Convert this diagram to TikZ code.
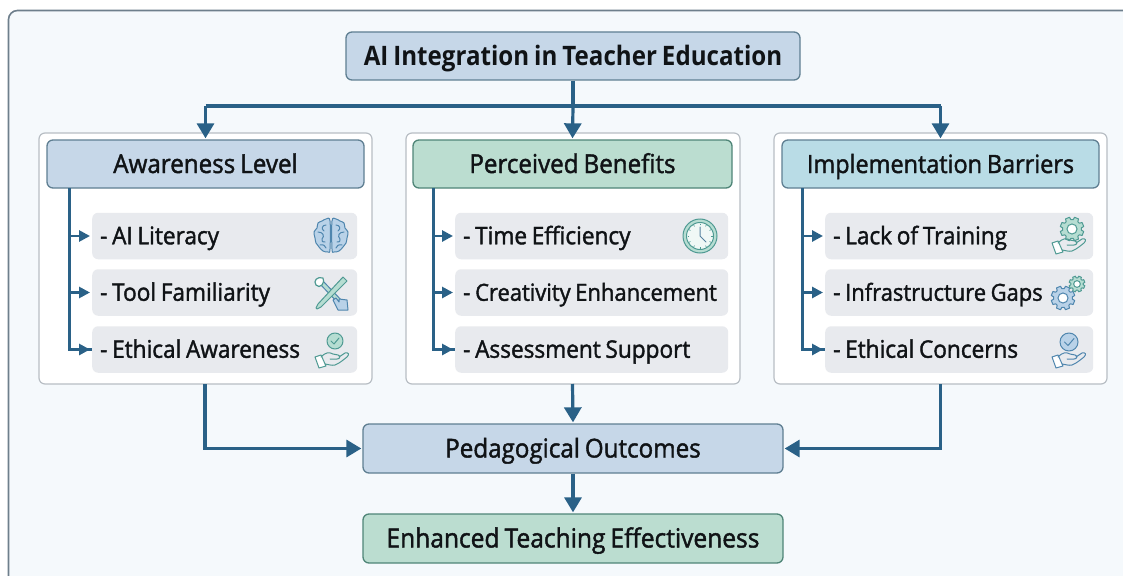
\documentclass[tikz,border=0pt]{standalone}
\usepackage{fontspec}
\setmainfont[FakeStretch=0.93,WordSpace=0.8,FakeBold=1.6]{Open Sans}
\newfontfamily\medfont[FakeStretch=0.9,WordSpace=0.8,UprightFont=*-Bold]{Open Sans}
\usetikzlibrary{arrows.meta,calc}
\definecolor{linec}{HTML}{2A6187}
\definecolor{bgc}{HTML}{F5F9FC}
\definecolor{framec}{HTML}{6E7F8C}
\definecolor{panelc}{HTML}{B8BEC4}
\definecolor{bluef}{HTML}{C6D7E8}
\definecolor{greenf}{HTML}{BBDDD0}
\definecolor{tealf}{HTML}{B9DCE6}
\definecolor{itemf}{HTML}{E8EAEE}
\definecolor{edgec}{HTML}{5F7F92}
\definecolor{greene}{HTML}{4F8577}
\definecolor{ink}{HTML}{101316}
\definecolor{iconb}{HTML}{4F86AE}
\definecolor{iconbf}{HTML}{B9D2E8}
\definecolor{icong}{HTML}{4F9A93}
\definecolor{icongf}{HTML}{B6DDD2}
\newcommand{\tightsize}{\fontsize{23.6}{27}\selectfont}
\tikzset{
  x=1pt,y=-1pt,
  frame/.style={draw=framec,line width=1.6pt,fill=bgc,rounded corners=9pt},
  panelbox/.style={draw=panelc,line width=1.2pt,fill=white,rounded corners=6pt},
  boxbase/.style={rounded corners=6pt,line width=1.3pt,inner sep=0pt,text=ink,text height=20pt,text depth=2pt},
  rootbox/.style={boxbase,draw=edgec,fill=bluef,text height=22pt,font=\fontsize{26.8}{30}\selectfont\medfont},
  headblue/.style={boxbase,draw=edgec,fill=bluef,font=\fontsize{26}{30}\selectfont},
  headgreen/.style={boxbase,draw=greene,fill=greenf,font=\fontsize{26}{30}\selectfont},
  headteal/.style={boxbase,draw=edgec,fill=tealf,font=\fontsize{25.2}{30}\selectfont},
  itembox/.style={rounded corners=6pt,fill=itemf,inner ysep=0pt,inner xsep=8pt,text=ink,minimum height=46.5pt,text height=19pt,text depth=2.4pt,font=\fontsize{24.3}{27}\selectfont},
  conn/.style={draw=linec,line width=3.2pt,-{Triangle[length=15pt,width=17pt]}},
  plainline/.style={draw=linec,line width=3.2pt},
  smallconn/.style={draw=linec,line width=2.8pt,-{Triangle[length=11pt,width=11pt]}},
  trunk/.style={draw=linec,line width=3pt},
  iconblue/.style={draw=iconb,line width=1pt,fill=iconbf,line join=round},
  icongreen/.style={draw=icong,line width=1pt,fill=icongf,line join=round},
  iconline/.style={draw=#1,line width=1pt,line cap=round,line join=round,fill=none},
  pics/handicon/.style={code={
    \draw[icongreen,fill=white,draw=#1] (-17,6) -- (-11,4) -- (-6,15) -- (-13,17) -- cycle;
    \draw[iconline=#1] (-11,6) .. controls (-6,1) and (-3,1) .. (1,3) -- (6,4) .. controls (9,5) and (8,8) .. (5,8) -- (-2,8);
    \draw[iconline=#1] (7,6) -- (13,2) .. controls (16,1) and (18,3) .. (15,6) .. controls (11,9) and (8,12) .. (3,14) .. controls (-1,15) and (-4,13) .. (-7,13);
  }},
  pics/gearicon/.style n args={3}{code={
    \draw[draw=#2,fill=#3,line width=1pt,line join=round] (0:#1*0.78)
      \foreach \a in {0,45,...,315}{ -- ({\a+7}:#1*0.78) -- ({\a+12}:#1) -- ({\a+33}:#1) -- ({\a+38}:#1*0.78) } -- cycle;
    \draw[draw=#2,fill=white,line width=1pt] (0,0) circle[radius=#1*0.42];
  }},
}
\begin{document}
\begin{tikzpicture}
\useasboundingbox (0,0) rectangle (1123,575);
\fill[white] (0,0) rectangle (1123,575);
\begin{scope}
\clip (0,0) rectangle (1123,575);
\draw[frame] (8.5,10.5) rectangle (1135,590);
\end{scope}
% panels
\draw[panelbox] (39,133) rectangle (372,384);
\draw[panelbox] (406,133) rectangle (740,384);
\draw[panelbox] (774,133) rectangle (1107,384);
% main nodes
\node[rootbox,minimum width=454pt,minimum height=48pt] (root) at (573,56) {AI Integration in Teacher Education};
\node[headblue,minimum width=317pt,minimum height=48pt] (h1) at (205.5,164) {Awareness Level};
\node[headgreen,minimum width=319pt,minimum height=48pt] (h2) at (572.5,164) {Perceived Benefits};
\node[headteal,minimum width=317pt,minimum height=48pt] (h3) at (940.5,164) {Implementation Barriers};
\node[headblue,minimum width=420pt,minimum height=49pt] (ped) at (573,448.5) {Pedagogical Outcomes};
\node[headgreen,minimum width=420pt,minimum height=49pt,font=\fontsize{26.4}{30}\selectfont] (enh) at (573,538.5) {Enhanced Teaching Effectiveness};
% items
\newcommand{\itemrow}[5]{\node[itembox,anchor=west] (#1) at (#2,#4) {\makebox[\dimexpr#3pt-16pt\relax][l]{- #5}};}
\itemrow{a1}{92}{265}{236}{AI Literacy}
\itemrow{a2}{92}{265}{292.5}{Tool Familiarity}
\itemrow{a3}{92}{265}{349.5}{Ethical Awareness}
\itemrow{b1}{455}{273}{236}{Time Efficiency}
\itemrow{b2}{455}{273}{292.5}{\tightsize Creativity Enhancement}
\itemrow{b3}{455}{273}{349.5}{Assessment Support}
\itemrow{c1}{825}{268}{236}{Lack of Training}
\itemrow{c2}{825}{268}{292.5}{\tightsize Infrastructure Gaps}
\itemrow{c3}{825}{268}{349.5}{Ethical Concerns}
% top connectors
\coordinate (bus) at (root.south |- 0,106);
\coordinate (busl) at (h1.north |- bus);
\coordinate (busr) at (h3.north |- bus);
\draw[plainline] (root.south) -- (bus);
\draw[plainline] (busl) -- (busr);
\draw[conn] (busl) -- ($(h1.north)+(0,-1)$);
\draw[conn] (bus) -- ($(h2.north)+(0,-1)$);
\draw[conn] (busr) -- ($(h3.north)+(0,-1)$);
% trunks
\coordinate (ta) at (69,188);
\draw[trunk] (ta) |- (a3.west);
\draw[smallconn] (ta |- a1) -- ($(a1.west)+(-2,0)$);
\draw[smallconn] (ta |- a2) -- ($(a2.west)+(-2,0)$);
\draw[smallconn] (ta |- a3) -- ($(a3.west)+(-2,0)$);
\coordinate (tb) at (433,188);
\draw[trunk] (tb) |- (b3.west);
\draw[smallconn] (tb |- b1) -- ($(b1.west)+(-2,0)$);
\draw[smallconn] (tb |- b2) -- ($(b2.west)+(-2,0)$);
\draw[smallconn] (tb |- b3) -- ($(b3.west)+(-2,0)$);
\coordinate (tc) at (802,188);
\draw[trunk] (tc) |- (c3.west);
\draw[smallconn] (tc |- c1) -- ($(c1.west)+(-2,0)$);
\draw[smallconn] (tc |- c2) -- ($(c2.west)+(-2,0)$);
\draw[smallconn] (tc |- c3) -- ($(c3.west)+(-2,0)$);
% bottom connectors
\coordinate (p1) at (205,384);
\coordinate (p2) at (572.5,384);
\coordinate (p3) at (940.5,384);
\draw[conn] (p1) |- ($(ped.west)+(-1,0)$);
\draw[conn] (p2) -- ($(ped.north)+(0,-1)$);
\draw[conn] (p3) |- ($(ped.east)+(1,0)$);
\draw[conn] (ped.south) -- ($(enh.north)+(0,-1)$);
% brain
\begin{scope}[shift={(331,236)}]
  \foreach \s in {1,-1}{
    \begin{scope}[xscale=\s]
    \draw[iconblue] plot[smooth cycle,tension=0.6] coordinates {(1,-15) (5,-17) (9,-15) (13,-13) (14,-8) (17,-4) (16,2) (15,7) (12,11) (8,15) (3,16) (1,13)};
    \draw[iconline=iconb] (5,-11) .. controls (9,-11) and (10,-7) .. (7,-5);
    \draw[iconline=iconb] (13,-4) .. controls (8,-4) and (6,0) .. (9,3) .. controls (10,5) and (8,7) .. (6,6);
    \draw[iconline=iconb] (11,9) .. controls (8,8) and (5,10) .. (5,12);
    \end{scope}}
\end{scope}
% tools
\begin{scope}[shift={(331,293)}]
  \draw[draw=iconb,fill=icongf,line width=1pt,line join=round] (-12,-10) -- (-9,-13) -- (14,11) -- (11,14) -- cycle;
  \draw[iconline=icong,line width=1.2pt,fill=white] (-8,-15) .. controls (-14,-17) and (-18,-12) .. (-15,-8) .. controls (-13,-6) and (-11,-6) .. (-9,-8) .. controls (-7,-10) and (-7,-13) .. (-8,-15);
  \draw[icongreen] (12,-16) -- (16,-12) -- (-10,14) -- (-14,16) -- (-15,15) -- (-13,11) -- cycle;
  \draw[iconblue] (2,7) -- (5,5) -- (8,9) -- (8,6) -- (16,7) -- (17,17) -- (7,17) -- cycle;
\end{scope}
% hands and badges
\draw[icongreen] (335,341) circle[radius=8];
\draw[iconline=icong] (331,341) -- (334,344) -- (339,338);
\pic at (332,351) {handicon=icong};
\begin{scope}[shift={(700,236)}]
  \draw[draw=icong,fill=icongf,line width=1pt] (0,0) circle[radius=17];
  \draw[draw=icong,fill=white!80!icongf,line width=1pt] (0,0) circle[radius=13.5];
  \foreach \a in {0,30,...,330}{\draw[draw=icong,line width=.6pt] (\a:11) -- (\a:12.5);}
  \draw[iconline=linec!80] (0,-9) -- (0,0) -- (6,6);
\end{scope}
\pic at (1072,229) {gearicon={12}{icong}{icongf}};
\pic at (1069,237) {handicon=icong};
\pic at (1063,298) {gearicon={12}{iconb}{iconbf}};
\pic at (1077,284) {gearicon={8}{icong}{icongf}};
\draw[iconblue] (1069,342) circle[radius=9];
\draw[iconline=iconb] (1064.5,342) -- (1068,345.5) -- (1074,338.5);
\pic at (1069,351) {handicon=iconb};
\end{tikzpicture}
\end{document}
